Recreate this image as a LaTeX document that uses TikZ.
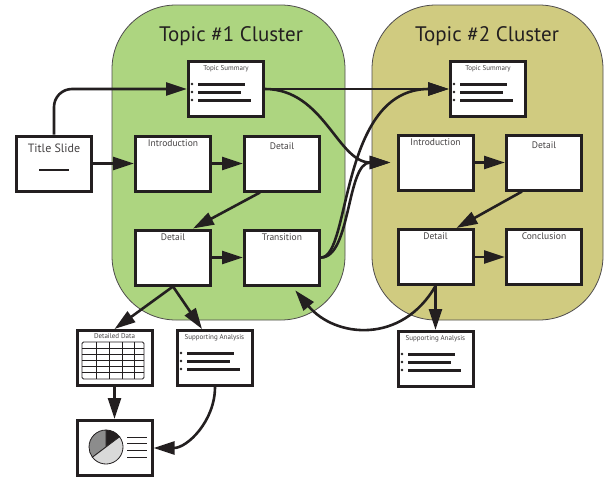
\documentclass[tikz,border=0pt]{standalone}
\usepackage{fontspec}
\setmainfont{PT Sans}
\usepackage{tikz}
\usetikzlibrary{arrows.meta,calc}
\definecolor{topicgreen}{HTML}{ADD580}
\definecolor{topicolive}{HTML}{D0CB80}
\definecolor{inkgray}{HTML}{231F20}
\definecolor{piegray}{HTML}{8C8C8C}
\definecolor{pielight}{HTML}{D9D9D9}

% three bullets with bars, placed from the west side of a slide node
\newcommand{\bulletlist}[1]{%
  \foreach \dy/\len in {5/47,-3/43,-11/53} {
    \fill[inkgray] ($(#1.west)+(5,\dy)$) circle (1.4pt);
    \draw[line width=3pt, inkgray] ($(#1.west)+(11,\dy)$) -- ++(\len,0);
  }}

\begin{document}
\begin{tikzpicture}[
  x=1pt, y=1pt,
  >={Triangle[length=21pt,width=13pt]},
  cluster/.style={
    draw=inkgray!80,
    line width=0.8pt,
    rounded corners=64pt
  },
  clustertitle/.style={
    font=\fontsize{21}{25}\selectfont,
    text=inkgray
  },
  slide/.style={
    draw=inkgray,
    fill=white,
    line width=3pt,
    minimum width=75pt,
    minimum height=55pt,
    inner sep=0pt
  },
  slidetitle/.style={
    anchor=north,
    font=\fontsize{9.5}{11}\selectfont,
    text=inkgray!85,
    yshift=-1.5pt
  },
  smalltitle/.style={
    anchor=north,
    font=\fontsize{7}{8}\selectfont,
    text=inkgray!85,
    yshift=-1.5pt
  },
  flow/.style={
    ->,
    line width=2.6pt,
    draw=inkgray
  }
]
  \useasboundingbox (0,0) rectangle (605,-479);

  % --- CLUSTER BACKGROUNDS ---
  \draw[cluster, fill=topicgreen] (112,-5) rectangle (345,-320);
  \draw[cluster, fill=topicolive] (372,-5) rectangle (603,-320);
  \node[clustertitle] (cluster1) at (231,-36) {Topic \#1 Cluster};
  \node[clustertitle] (cluster2) at (487,-36) {Topic \#2 Cluster};

  % --- TITLE SLIDE ---
  \node[slide, label={[slidetitle, font=\fontsize{12}{14}\selectfont, yshift=-4pt]north:Title Slide}] (title) at (54,-163.5) {};
  \draw[line width=2pt, inkgray] ($(title.center)+(-15,-6)$) -- ++(30,0);

  % --- TOPIC 1 ---
  \node[slide, label={[smalltitle]north:Topic Summary}] (ts1) at (226,-89) {};
  \bulletlist{ts1}
  \node[slide, label={[slidetitle]north:Introduction}] (intro1) at (173,-163.5) {};
  \node[slide, label={[slidetitle, yshift=-3pt]north:Detail}] (detail1a) at (282,-163.5) {};
  \node[slide, label={[slidetitle]north:Detail}] (detail1b) at (173,-257.5) {};
  \node[slide, label={[slidetitle]north:Transition}] (transition) at (282,-257.5) {};

  % --- TOPIC 2 ---
  \node[slide, label={[smalltitle]north:Topic Summary}] (ts2) at (488,-89) {};
  \bulletlist{ts2}
  \node[slide, label={[slidetitle]north:Introduction}] (intro2) at (435.5,-162.5) {};
  \node[slide, label={[slidetitle, yshift=-3pt]north:Detail}] (detail2a) at (544,-162.5) {};
  \node[slide, label={[slidetitle]north:Detail}] (detail2b) at (435.5,-257) {};
  \node[slide, label={[slidetitle]north:Conclusion}] (conclusion) at (544,-257) {};

  % --- BACKUP SLIDES ---
  \node[slide, label={[smalltitle]north:Detailed Data}] (data) at (114.5,-358) {};
  \begin{scope}[shift={(data.center)}, line width=0.9pt, draw=inkgray]
    \draw[rounded corners=1.5pt] (-32.5,16) rectangle (29.5,-21);
    \foreach \gx in {-18.5,-5.5,7.5,19.5} \draw (\gx,16) -- (\gx,-21);
    \foreach \gy in {9.8,3.7,-2.5,-8.7,-14.8} \draw (-32.5,\gy) -- (29.5,\gy);
  \end{scope}

  \node[slide, label={[smalltitle, anchor=north west, xshift=-34pt]north:Supporting Analysis}] (sa1) at (215,-358) {};
  \bulletlist{sa1}
  \node[slide, label={[smalltitle, anchor=north west, xshift=-34pt]north:Supporting Analysis}] (sa2) at (436,-359) {};
  \bulletlist{sa2}

  \node[slide] (pie) at (114.5,-448) {};
  \begin{scope}[shift={(pie.center)}, line width=0.8pt, draw=inkgray]
    \filldraw[fill=inkgray] (-8.5,1) -- ++(37:17) arc (37:90:17) -- cycle;
    \filldraw[fill=piegray] (-8.5,1) -- ++(90:17) arc (90:217:17) -- cycle;
    \filldraw[fill=pielight] (-8.5,1) -- ++(217:17) arc (217:397:17) -- cycle;
    \foreach \ly in {11,5,-2,-9} \draw (12.5,\ly) -- (32.5,\ly);
  \end{scope}

  % --- CONNECTORS ---
  \draw[flow, rounded corners=18pt] (title.north) |- (ts1.west);
  \draw[flow] (title) -- (intro1);
  \draw[flow] (intro1) -- (detail1a);
  \draw[flow] ($(detail1a.south)+(-22,0)$) -- ($(detail1b.north)+(20,0)$);
  \draw[flow] (detail1b) -- (transition);

  \draw[flow] (ts1) -- (ts2);
  \draw[flow, shorten >=6pt] (ts1.east) to[out=0, in=180] (intro2.west);
  \draw[flow] (transition.east) .. controls +(30,0) and +(-110,0) .. (ts2.west);
  \draw[flow, shorten >=6pt] (transition.east) .. controls +(30,0) and +(-50,0) .. (intro2.west);

  \draw[flow] (intro2) -- (detail2a);
  \draw[flow] ($(detail2a.south)+(-22,0)$) -- ($(detail2b.north)+(21,0)$);
  \draw[flow] (detail2b) -- (conclusion);
  \draw[flow] (detail2b.south) -- (detail2b.south |- sa2.north);
  \draw[flow, shorten >=5pt] (detail2b.south) to[out=-120, in=-50, looseness=1.2] ($(transition.south)+(10,0)$);

  \draw[flow] (detail1b.south) -- (data.north);
  \draw[flow] (detail1b.south) -- ($(sa1.north)+(-13,0)$);
  \draw[flow] (data) -- (pie);
  \draw[flow] (sa1.south) to[out=-90, in=0] (pie.east);

\end{tikzpicture}
\end{document}
